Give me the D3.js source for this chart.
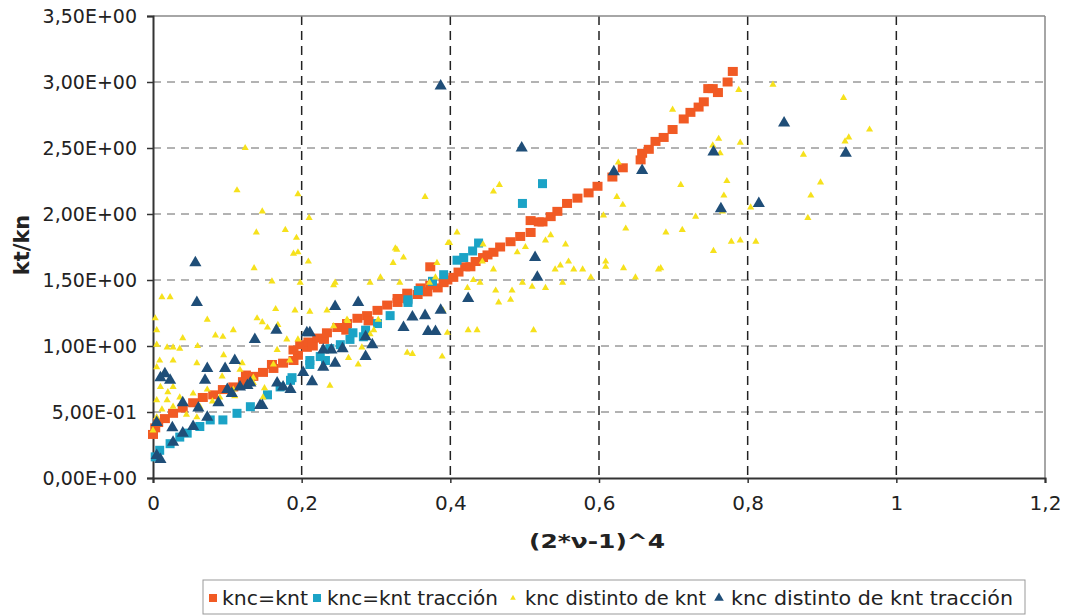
<!DOCTYPE html>
<html>
<head>
<meta charset="utf-8">
<script src="https://cdn.jsdelivr.net/npm/d3@7"></script>
<style>
  html, body { margin: 0; padding: 0; background: #fff; }
  svg { display: block; }
  text { font-family: "DejaVu Sans", Verdana, sans-serif; fill: #222; }
</style>
</head>
<body>
<svg id="chart" width="1065" height="616"></svg>
<script>
// ---------- DATA ----------
const xTicks = [0, 0.2, 0.4, 0.6, 0.8, 1, 1.2];
const xTickLabels = ["0", "0,2", "0,4", "0,6", "0,8", "1", "1,2"];
const yTicks = [0, 0.5, 1, 1.5, 2, 2.5, 3, 3.5];
const yTickLabels = ["0,00E+00", "5,00E-01", "1,00E+00", "1,50E+00", "2,00E+00", "2,50E+00", "3,00E+00", "3,50E+00"];
const seriesNames = ["knc=knt", "knc=knt tracción", "knc distinto de knt", "knc distinto de knt tracción"];
const xTitle = "(2*ν-1)^4";
const yTitle = "kt/kn";

// knc=knt
const kncEqKnt = [
  [0.0,0.33],[0.003,0.38],[0.007,0.42],[0.016,0.45],[0.027,0.49],[0.040,0.53],[0.054,0.57],[0.067,0.61],
  [0.081,0.63],[0.094,0.67],[0.108,0.69],[0.121,0.73],[0.125,0.78],[0.135,0.77],[0.148,0.80],[0.160,0.86],
  [0.162,0.83],[0.175,0.87],[0.189,0.89],[0.195,0.93],[0.189,0.97],[0.198,1.01],[0.207,0.99],[0.209,1.03],
  [0.215,1.00],[0.221,1.06],[0.230,1.05],[0.234,1.10],[0.248,1.14],[0.260,1.12],[0.261,1.17],[0.275,1.21],
  [0.288,1.23],[0.290,1.19],[0.302,1.27],[0.315,1.31],[0.329,1.33],[0.329,1.36],[0.342,1.36],[0.342,1.40],
  [0.356,1.39],[0.360,1.44],[0.369,1.41],[0.373,1.46],[0.373,1.60],[0.383,1.44],[0.391,1.48],[0.396,1.50],
  [0.404,1.52],[0.411,1.56],[0.420,1.60],[0.427,1.60],[0.434,1.64],[0.444,1.67],[0.450,1.69],[0.458,1.71],
  [0.467,1.75],[0.481,1.79],[0.494,1.83],[0.508,1.86],[0.508,1.95],[0.519,1.94],[0.524,1.94],[0.535,1.98],
  [0.544,2.02],[0.557,2.08],[0.571,2.12],[0.586,2.16],[0.598,2.21],[0.618,2.28],[0.632,2.35],[0.656,2.41],
  [0.658,2.46],[0.667,2.49],[0.676,2.55],[0.687,2.58],[0.699,2.64],[0.714,2.72],[0.723,2.77],[0.734,2.81],
  [0.741,2.85],[0.747,2.95],[0.753,2.95],[0.760,2.92],[0.773,3.00],[0.780,3.08]
];

// knc=knt tracción
const kncEqKntTraccion = [
  [0.003,0.16],[0.009,0.21],[0.023,0.26],[0.036,0.31],[0.046,0.34],[0.063,0.39],[0.077,0.44],[0.094,0.44],
  [0.113,0.49],[0.131,0.54],[0.154,0.63],[0.171,0.69],[0.185,0.74],[0.187,0.76],[0.211,0.86],[0.211,0.89],
  [0.225,0.92],[0.232,0.89],[0.238,0.98],[0.252,1.01],[0.265,1.05],[0.269,1.10],[0.283,1.07],[0.286,1.12],
  [0.302,1.17],[0.319,1.23],[0.343,1.33],[0.343,1.35],[0.357,1.42],[0.376,1.49],[0.391,1.54],[0.409,1.65],
  [0.418,1.67],[0.430,1.72],[0.438,1.78],[0.497,2.08],[0.524,2.23]
];

// knc distinto de knt
const kncDistinto = [
  [0.124,2.50],[0.113,2.18],[0.147,2.02],[0.195,2.15],[0.210,1.97],[0.139,1.86],[0.178,1.88],[0.193,1.82],
  [0.189,1.70],[0.195,1.71],[0.209,1.64],[0.136,1.59],[0.160,1.49],[0.198,1.48],[0.023,1.37],[0.012,1.37],
  [0.003,1.21],[0.073,1.20],[0.140,1.21],[0.147,1.18],[0.191,1.27],[0.211,1.26],[0.108,1.12],[0.154,1.14],
  [0.168,1.16],[0.084,1.08],[0.094,1.07],[0.027,0.99],[0.019,0.99],[0.036,0.98],[0.005,1.12],[0.005,1.01],
  [0.009,0.89],[0.027,0.89],[0.059,0.87],[0.074,0.82],[0.093,0.77],[0.117,0.82],[0.135,0.76],[0.162,0.86],
  [0.167,0.97],[0.184,0.89],[0.261,1.20],[0.243,1.15],[0.245,1.48],[0.263,0.91],[0.238,0.70],[0.005,0.84],
  [0.013,0.78],[0.010,0.69],[0.027,0.69],[0.005,0.59],[0.019,0.59],[0.036,0.61],[0.054,0.64],[0.073,0.67],
  [0.005,0.46],[0.027,0.54],[0.063,0.54],[0.090,0.61],[0.108,0.67],[0.135,0.72],[0.148,0.61],[0.059,0.46],
  [0.000,0.36],[0.012,0.52],[0.045,0.48],[0.020,0.65],[0.080,0.58],[0.110,0.62],[0.150,0.68],[0.120,0.87],
  [0.095,0.93],[0.040,1.06],[0.060,1.00],[0.165,1.28],[0.180,1.05],
  [0.292,1.48],[0.306,1.52],[0.328,1.73],[0.337,1.67],[0.323,1.63],[0.332,1.48],[0.243,1.46],[0.382,1.63],
  [0.397,1.78],[0.234,1.27],[0.342,0.95],[0.349,0.94],[0.276,0.86],[0.389,0.92],[0.390,1.27],[0.262,1.19],
  [0.303,1.20],[0.297,1.12],[0.281,0.99],[0.292,1.09],[0.195,1.05],[0.366,2.13],[0.326,1.74],[0.372,1.48],
  [0.380,1.52],
  [0.409,1.86],[0.399,1.78],[0.444,1.77],[0.490,1.71],[0.501,1.75],[0.528,1.80],[0.535,1.84],[0.555,1.77],
  [0.559,1.64],[0.548,1.61],[0.541,1.58],[0.566,1.58],[0.578,1.58],[0.589,1.52],[0.551,1.48],[0.528,1.44],
  [0.510,1.45],[0.497,1.48],[0.483,1.42],[0.461,1.42],[0.440,1.48],[0.431,1.50],[0.423,1.44],[0.458,1.58],
  [0.443,1.64],[0.481,1.35],[0.465,1.33],[0.424,1.12],[0.436,1.12],[0.512,1.12],[0.396,1.10],[0.606,1.99],
  [0.609,1.64],[0.609,1.60],[0.632,2.07],[0.636,1.89],[0.633,1.59],[0.649,1.52],[0.680,1.58],[0.690,1.86],
  [0.712,1.88],[0.730,1.98],[0.458,2.17],[0.466,2.22],[0.699,2.79],[0.626,2.39],[0.624,2.13],[0.710,2.22],
  [0.683,1.59],[0.788,2.94],[0.834,2.98],[0.929,2.88],[0.964,2.64],[0.936,2.58],[0.931,2.55],[0.761,2.57],
  [0.790,2.54],[0.753,2.52],[0.763,2.46],[0.875,2.45],[0.898,2.24],[0.772,2.25],[0.885,2.14],[0.768,2.14],
  [0.804,2.05],[0.766,2.02],[0.881,1.97],[0.811,1.79],[0.790,1.80],[0.778,1.79],[0.754,1.72]
];

// knc distinto de knt tracción
const kncDistintoTraccion = [
  [0.387,2.97],[0.496,2.50],[0.514,1.67],[0.517,1.52],[0.620,2.32],[0.658,2.33],[0.754,2.47],[0.849,2.69],
  [0.932,2.46],[0.764,2.04],[0.815,2.08],[0.057,1.63],[0.059,1.33],[0.166,1.12],[0.137,1.05],[0.110,0.89],
  [0.097,0.83],[0.073,0.83],[0.070,0.74],[0.016,0.79],[0.023,0.74],[0.010,0.76],[0.040,0.57],[0.061,0.53],
  [0.005,0.42],[0.026,0.38],[0.088,0.57],[0.100,0.67],[0.106,0.64],[0.117,0.69],[0.127,0.70],[0.131,0.72],
  [0.144,0.55],[0.147,0.55],[0.167,0.72],[0.175,0.69],[0.185,0.67],[0.207,1.10],[0.202,0.80],[0.027,0.27],
  [0.005,0.17],[0.010,0.14],[0.040,0.34],[0.054,0.39],[0.073,0.46],[0.276,1.33],[0.245,1.30],[0.211,1.10],
  [0.229,0.97],[0.240,0.97],[0.255,0.98],[0.245,0.87],[0.229,0.84],[0.214,0.73],[0.286,0.92],[0.295,1.01],
  [0.286,1.07],[0.337,1.14],[0.349,1.22],[0.366,1.23],[0.387,1.27],[0.370,1.11],[0.380,1.11],[0.424,1.36]
];

// ---------- LAYOUT ----------
const colors = ["#f15a24", "#1ba3c6", "#f6e11c", "#1f4e78"];
const svg = d3.select("#chart");
const plot = { left: 153, right: 1045, top: 16, bottom: 478 };

const x = d3.scaleLinear().domain([0, 1.2]).range([plot.left, plot.right]);
const y = d3.scaleLinear().domain([0, 3.5]).range([plot.bottom, plot.top]);

// gridlines horizontal (grey dashed)
svg.append("g").selectAll("line")
  .data(yTicks.filter(d => d > 0 && d < 3.5))
  .join("line")
  .attr("x1", plot.left).attr("x2", plot.right)
  .attr("y1", d => y(d)).attr("y2", d => y(d))
  .attr("stroke", "#666").attr("stroke-width", 1)
  .attr("stroke-dasharray", "8,6");

// gridlines vertical (black dashed)
svg.append("g").selectAll("line")
  .data(xTicks.filter(d => d > 0 && d < 1.2))
  .join("line")
  .attr("x1", d => x(d)).attr("x2", d => x(d))
  .attr("y1", plot.top).attr("y2", plot.bottom)
  .attr("stroke", "#222").attr("stroke-width", 1.5)
  .attr("stroke-dasharray", "9,6");

// plot border top/right
svg.append("line").attr("x1", plot.left).attr("x2", plot.right)
  .attr("y1", plot.top).attr("y2", plot.top)
  .attr("stroke", "#888").attr("stroke-width", 1.5);
svg.append("line").attr("x1", plot.right).attr("x2", plot.right)
  .attr("y1", plot.top).attr("y2", plot.bottom)
  .attr("stroke", "#888").attr("stroke-width", 1.5);

// axes
const xAxis = d3.axisBottom(x).tickValues(xTicks)
  .tickFormat((d, i) => xTickLabels[i]).tickSize(5).tickPadding(13);
const yAxis = d3.axisLeft(y).tickValues(yTicks)
  .tickFormat((d, i) => yTickLabels[i]).tickSize(6).tickPadding(10);

const gx = svg.append("g").attr("transform", `translate(0,${plot.bottom})`).call(xAxis);
const gy = svg.append("g").attr("transform", `translate(${plot.left},0)`).call(yAxis);
[gx, gy].forEach(g => {
  g.select(".domain").attr("stroke", "#333").attr("stroke-width", 2);
  g.selectAll(".tick line").attr("stroke", "#333").attr("stroke-width", 1.5);
  g.selectAll(".tick text").attr("fill", "#222")
    .style("font-family", "'DejaVu Sans', Verdana, sans-serif");
});
gx.selectAll(".tick text").style("font-size", "20px");
gy.selectAll(".tick text").style("font-size", "19px");

// axis titles
svg.append("text").attr("x", 597).attr("y", 548).attr("text-anchor", "middle")
  .attr("textLength", 136).attr("lengthAdjust", "spacingAndGlyphs")
  .style("font-size", "20px").style("font-weight", "bold").text(xTitle);
svg.append("text").attr("transform", "translate(29,245) rotate(-90)").attr("text-anchor", "middle")
  .style("font-size", "21px").style("font-weight", "bold").text(yTitle);

// ---------- MARKS ----------
const marks = svg.append("g");
function squares(data, color, w, h) {
  marks.append("g").selectAll("rect").data(data).join("rect")
    .attr("x", d => x(d[0]) - w / 2).attr("y", d => y(d[1]) - h / 2)
    .attr("width", w).attr("height", h).attr("fill", color);
}
function triangles(data, color, size) {
  const sym = d3.symbol().type(d3.symbolTriangle).size(size);
  marks.append("g").selectAll("path").data(data).join("path")
    .attr("transform", d => `translate(${x(d[0])},${y(d[1])})`)
    .attr("d", sym).attr("fill", color);
}
squares(kncEqKnt, colors[0], 10, 9);
squares(kncEqKntTraccion, colors[1], 9, 9);
triangles(kncDistinto, colors[2], 22);
triangles(kncDistintoTraccion, colors[3], 64);

// ---------- LEGEND ----------
const legend = svg.append("g");
legend.append("rect").attr("x", 203).attr("y", 580).attr("width", 822).attr("height", 34)
  .attr("fill", "#fff").attr("stroke", "#999").attr("stroke-width", 1);
const legItems = [
  { mx: 213, tx: 222, tw: 86 },
  { mx: 317, tx: 327, tw: 171 },
  { mx: 513, tx: 525, tw: 181 },
  { mx: 719, tx: 731, tw: 282 }
];
const ly = 598;
legend.append("rect").attr("x", legItems[0].mx - 4).attr("y", ly - 4).attr("width", 8).attr("height", 8).attr("fill", colors[0]);
legend.append("rect").attr("x", legItems[1].mx - 4).attr("y", ly - 4).attr("width", 8).attr("height", 8).attr("fill", colors[1]);
legend.append("path").attr("transform", `translate(${legItems[2].mx},${ly})`)
  .attr("d", d3.symbol().type(d3.symbolTriangle).size(14)).attr("fill", colors[2]);
legend.append("path").attr("transform", `translate(${legItems[3].mx},${ly})`)
  .attr("d", d3.symbol().type(d3.symbolTriangle).size(40)).attr("fill", colors[3]);
legend.selectAll("text.leg").data(seriesNames).join("text").attr("class", "leg")
  .attr("x", (d, i) => legItems[i].tx).attr("y", ly + 7)
  .attr("textLength", (d, i) => legItems[i].tw).attr("lengthAdjust", "spacingAndGlyphs")
  .style("font-size", "20px").text(d => d);
</script>
</body>
</html>
